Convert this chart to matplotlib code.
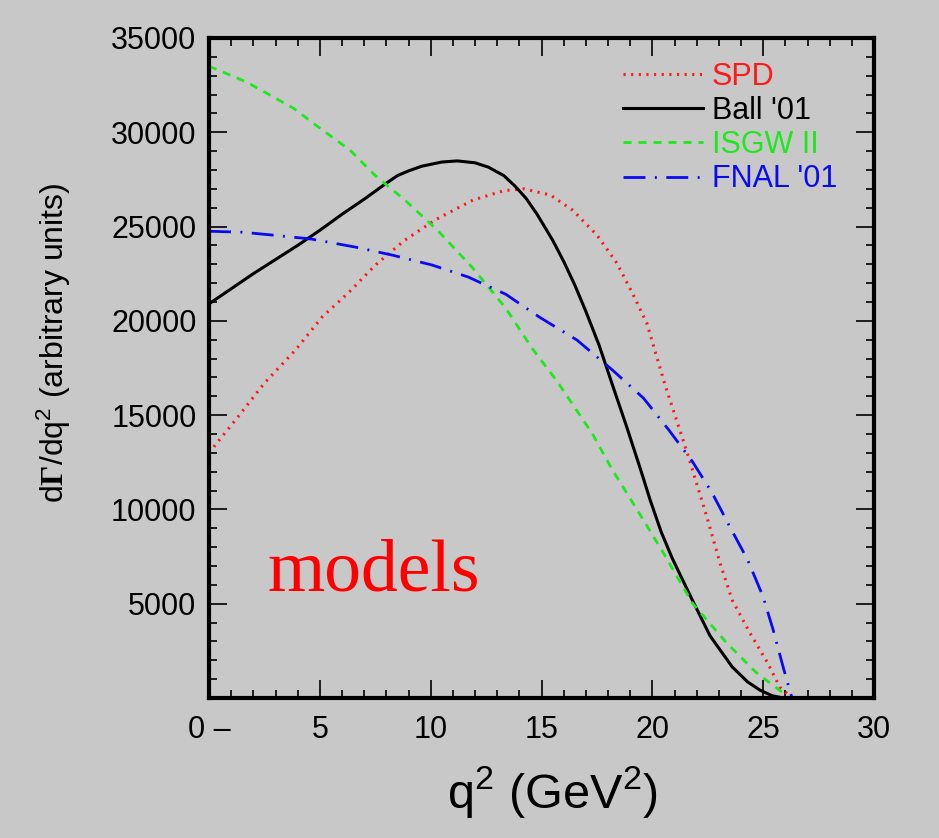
import numpy as np
import matplotlib
matplotlib.use("Agg")
import matplotlib.pyplot as plt
from matplotlib.ticker import MultipleLocator

# values
ball_x = [0, 1, 2, 3, 4, 5, 6, 7, 8, 8.5, 9.0, 9.6, 10.5, 11.2, 12, 12.6, 13.3, 13.8, 14.3,
          14.8, 15.5, 16.0, 16.5, 17.0, 17.6, 18.2, 18.85, 19.5, 19.9, 20.4, 20.9, 21.8,
          22.6, 23.6, 24.3, 24.85, 25.4, 25.9]
ball_y = [20900, 21700, 22500, 23250, 24000, 24800, 25650, 26450, 27300, 27700, 27950,
          28200, 28420, 28480, 28380, 28150, 27700, 27150, 26500, 25650, 24280, 23150,
          21900, 20500, 18700, 16600, 14350, 12000, 10500, 8800, 7400, 5200, 3300, 1650,
          850, 420, 120, 0]

spd_x = [0, 1.3, 2.5, 3.9, 5.1, 6.3, 7.5, 8.8, 10.2, 11.9, 13.3, 14.2, 15.4, 16.4, 17.5,
         18.4, 19.1, 19.75, 20.2, 20.6, 21.1, 21.6, 22.5, 23.05, 23.6, 24.4, 25.2,
         25.75, 26.3]
spd_y = [13000, 14900, 16700, 18450, 20200, 21500, 22950, 24250, 25350, 26400, 26900,
         27000, 26670, 25870, 24550, 23060, 21470, 19880, 18080, 16500, 14700, 12900,
         9440, 7160, 5200, 3450, 1860, 580, 0]

isgw_x = [0, 1.7, 3.8, 5.0, 6.36, 7.5, 8.84, 10.3, 11.86, 13.35, 14.6, 15.7, 16.5, 17.3,
          18.2, 19.4, 20.5, 21.8, 23.35, 24.7, 25.9, 26.1]
isgw_y = [33500, 32660, 31280, 30220, 29050, 27700, 26400, 24810, 22850, 20730, 18500,
          16800, 15400, 14000, 12090, 9810, 7690, 5040, 2920, 1330, 270, 0]

fnal_x = [0, 1.5, 2.84, 4.6, 6.6, 8.25, 10.06, 11.7, 13.4, 14.9, 16.6, 18.2, 19.6,
          20.75, 21.8, 22.7, 23.5, 24.3, 25.0, 25.45, 25.9, 26.3]
fnal_y = [24750, 24700, 24550, 24340, 23910, 23490, 22960, 22320, 21400, 20200, 18980,
          17390, 15900, 14200, 12550, 10870, 9070, 7320, 5360, 3610, 1640, 0]

xticks = [0, 5, 10, 15, 20, 25, 30]
xtick_labels = ["0 \u2013", "5", "10", "15", "20", "25", "30"]
yticks = [5000, 10000, 15000, 20000, 25000, 30000, 35000]

bg = "#c8c8c8"
red = "#ff1a1a"
green = "#1ee81e"
blue = "#0a0af0"

plt.rcParams['font.family'] = ['Liberation Sans', 'DejaVu Sans']
plt.rcParams['mathtext.fontset'] = 'custom'
plt.rcParams['mathtext.rm'] = 'Liberation Sans'
plt.rcParams['mathtext.it'] = 'Liberation Sans:italic'
plt.rcParams['mathtext.bf'] = 'Liberation Serif:bold'

fig = plt.figure(figsize=(9.39, 8.38), dpi=100, facecolor=bg)
ax = fig.add_axes([0.2226, 0.1671, 0.7082, 0.7876])
ax.set_facecolor(bg)

ax.plot(spd_x, spd_y, color=red, lw=2.2, linestyle=(0, (0.7, 1.8)), label="SPD")
ax.plot(ball_x, ball_y, color="black", lw=2.2, label="Ball '01")
ax.plot(isgw_x, isgw_y, color=green, lw=2, linestyle=(0, (2.9, 2.5)), label="ISGW II")
ax.plot(fnal_x, fnal_y, color=blue, lw=2, linestyle=(0, (7.9, 3.4, 0.7, 3.4)),
        label="FNAL '01")

ax.set_xlim(0, 30)
ax.set_ylim(0, 35000)
ax.set_xticks(xticks)
ax.set_xticklabels(xtick_labels)
ax.set_yticks(yticks)
ax.xaxis.set_minor_locator(MultipleLocator(1))
ax.yaxis.set_minor_locator(MultipleLocator(1000))
ax.tick_params(which="both", direction="in", top=True, right=True, width=1.2,
               colors="black", labelsize=22)
ax.tick_params(which="major", length=13)
ax.tick_params(which="minor", length=6)
ax.tick_params(axis="x", which="major", pad=12)
ax.tick_params(axis="y", which="major", pad=9)
for s in ax.spines.values():
    s.set_linewidth(3)

ax.set_xlabel("q$^2$ (GeV$^2$)", fontsize=35)
ax.xaxis.set_label_coords(0.516, -0.1)
ax.set_ylabel(r"d$\mathbf{\Gamma}$/dq$^2$ (arbitrary units)", fontsize=23)
ax.yaxis.set_label_coords(-0.205, 0.538)

ax.text(2.66, 5700, "models", color="red", fontsize=53, family="Liberation Serif")

leg = ax.legend(loc="upper right", bbox_to_anchor=(0.986, 1.006), frameon=False,
                fontsize=22, handlelength=2.6, handletextpad=0.3, labelspacing=0.14,
                labelcolor="linecolor")

fig.savefig("out.png", dpi=100, facecolor=bg)
